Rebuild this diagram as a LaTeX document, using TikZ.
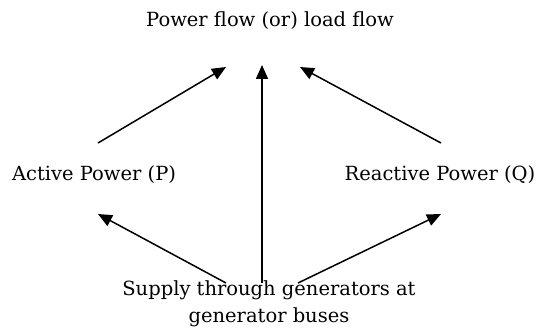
\documentclass[tikz,border=0pt]{standalone}
\usepackage{fontspec}
\setmainfont{DejaVu Serif}
\usetikzlibrary{arrows.meta}
\begin{document}
\begin{tikzpicture}[x=1pt,y=-1pt,
  label text/.style={inner sep=0pt, font=\fontsize{19.5}{27}\selectfont, align=center},
  flow/.style={line width=1.5pt, -{Triangle[length=14pt,width=12pt]}}]
  \useasboundingbox (0,0) rectangle (539,329);

  % quantities
  \node[label text] (title)    at (270,21)  {Power flow (or) load flow};
  \node[label text] (active)   at (94,175)  {Active Power (P)};
  \node[label text] (reactive) at (440,175) {Reactive Power (Q)};
  \node[label text] (supply)   at (269,304) {Supply through generators at\\generator buses};

  % arrow end points
  \coordinate (a-out) at (98,143);
  \coordinate (a-in)  at (226,67);
  \coordinate (r-out) at (441,143);
  \coordinate (r-in)  at (300,67);
  \coordinate (s-mid) at (262,283);
  \coordinate (t-mid) at (262,65);
  \coordinate (s-left)  at (226,283);
  \coordinate (a-low)   at (98,214);
  \coordinate (s-right) at (298,283);
  \coordinate (r-low)   at (441,214);

  % arrows
  \draw[flow] (a-out) -- (a-in);
  \draw[flow] (r-out) -- (r-in);
  \draw[flow] (s-mid) -- (t-mid);
  \draw[flow] (s-left) -- (a-low);
  \draw[flow] (s-right) -- (r-low);
\end{tikzpicture}
\end{document}
